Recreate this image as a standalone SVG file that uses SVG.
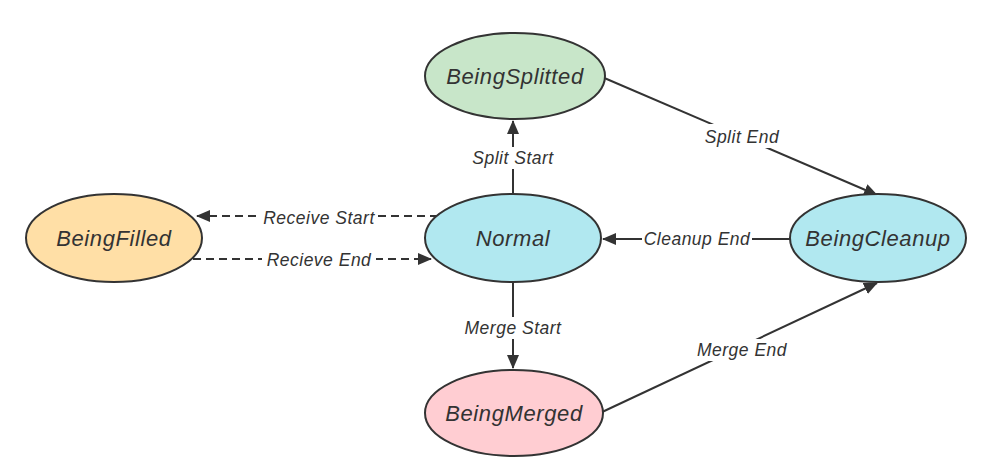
<svg xmlns="http://www.w3.org/2000/svg" width="987" height="467" viewBox="0 0 987 467">
<style>
.node ellipse{stroke:#333;stroke-width:2}
.node text{font-family:"Liberation Sans",Arial,sans-serif;font-style:italic;font-size:22px;letter-spacing:0.6px;fill:#333;text-anchor:middle}
.edge{fill:none;stroke:#333;stroke-width:2}
.dash{stroke-dasharray:8 5}
.lbl{font-family:"Liberation Sans",Arial,sans-serif;font-style:italic;font-size:17.5px;letter-spacing:0.5px;fill:#333;text-anchor:middle}
.bg{fill:#fff}
</style>
<defs>
<marker id="arr" markerUnits="userSpaceOnUse" markerWidth="14" markerHeight="12" refX="13" refY="6" orient="auto">
<path d="M0,0 L14,6 L0,12 Z" fill="#333"/>
</marker>
</defs>
<rect width="987" height="467" fill="#fff"/>
<g id="connectors">
<line class="edge" x1="513" y1="195" x2="513" y2="121" marker-end="url(#arr)"/>
<line class="edge" x1="513" y1="282" x2="513" y2="368" marker-end="url(#arr)"/>
<line class="edge dash" x1="438" y1="216" x2="197" y2="216" marker-end="url(#arr)"/>
<line class="edge dash" x1="193" y1="259" x2="431" y2="259" marker-end="url(#arr)"/>
<line class="edge" x1="790" y1="239" x2="603" y2="239" marker-end="url(#arr)"/>
<line class="edge" x1="602" y1="77" x2="877" y2="195" marker-end="url(#arr)"/>
<line class="edge" x1="600" y1="413" x2="877" y2="283" marker-end="url(#arr)"/>
<rect class="bg" x="466" y="147" width="94" height="22"/>
<text class="lbl" x="513" y="164">Split Start</text>
<rect class="bg" x="458" y="317" width="110" height="22"/>
<text class="lbl" x="513" y="334">Merge Start</text>
<rect class="bg" x="260" y="207" width="118" height="22"/>
<text class="lbl" x="319" y="224">Receive Start</text>
<rect class="bg" x="262" y="249" width="114" height="22"/>
<text class="lbl" x="319" y="266">Recieve End</text>
<rect class="bg" x="642" y="228" width="110" height="22"/>
<text class="lbl" x="697" y="245">Cleanup End</text>
<rect class="bg" x="700" y="124" width="84" height="24"/>
<text class="lbl" x="742" y="143">Split End</text>
<rect class="bg" x="692" y="339" width="100" height="22"/>
<text class="lbl" x="742" y="356">Merge End</text>
</g>
<g id="BeingSplitted" class="node">
<ellipse cx="515" cy="76" rx="90" ry="43" fill="#c8e6c9"/>
<text x="515" y="84">BeingSplitted</text>
</g>
<g id="Normal" class="node">
<ellipse cx="513" cy="238" rx="88" ry="44" fill="#b1e8f0"/>
<text x="513" y="246">Normal</text>
</g>
<g id="BeingFilled" class="node">
<ellipse cx="114" cy="238" rx="88" ry="44" fill="#ffdfa6"/>
<text x="114" y="246">BeingFilled</text>
</g>
<g id="BeingCleanup" class="node">
<ellipse cx="878" cy="238" rx="88" ry="44" fill="#b1e8f0"/>
<text x="878" y="246">BeingCleanup</text>
</g>
<g id="BeingMerged" class="node">
<ellipse cx="514" cy="413" rx="89" ry="43" fill="#ffcdd2"/>
<text x="514" y="421">BeingMerged</text>
</g>
</svg>
